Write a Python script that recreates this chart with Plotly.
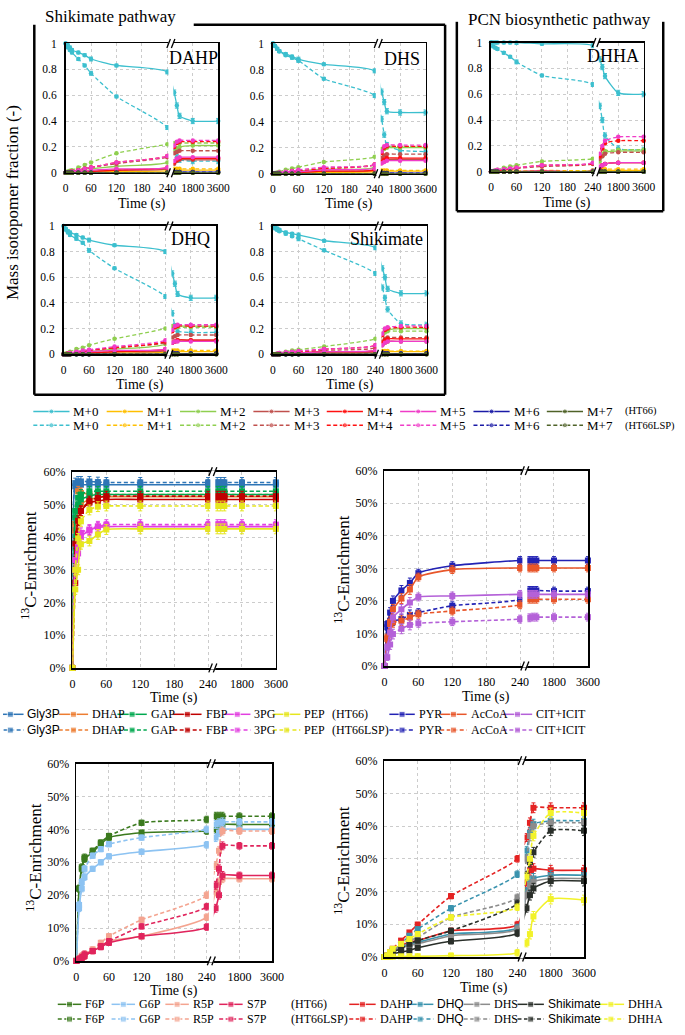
import numpy as np
import plotly.graph_objects as go

# ======================= DATA =======================
TIME_S = [0, 5, 10, 15, 30, 45, 60, 120, 240, 250, 260, 270, 1800, 3600]
TICK_TIMES = [0, 60, 120, 180, 240, 1800, 3600]
TICK_TEXT = ["0", "60", "120", "180", "240", "1800", "3600"]
ISOTOPOMERS = ["M+0", "M+1", "M+2", "M+3", "M+4", "M+5", "M+6", "M+7"]

# ---- DAHP mass isotopomer fractions ----
DAHP_M0_HT66 = [1.00, 0.99, 0.97, 0.95, 0.93, 0.91, 0.88, 0.83, 0.78, 0.62, 0.52, 0.44, 0.40, 0.40]
DAHP_M0_LSP = [1.00, 0.97, 0.95, 0.93, 0.88, 0.83, 0.77, 0.59, 0.35, 0.18, 0.12, 0.10, 0.09, 0.09]
DAHP_M1_HT66 = [0, 0, 0, 0, 0.005, 0.005, 0.01, 0.01, 0.015, 0.02, 0.02, 0.02, 0.02, 0.02]
DAHP_M1_LSP = [0, 0, 0, 0.005, 0.01, 0.01, 0.01, 0.02, 0.03, 0.03, 0.03, 0.03, 0.03, 0.03]
DAHP_M2_HT66 = [0, 0, 0.005, 0.01, 0.02, 0.03, 0.03, 0.05, 0.08, 0.16, 0.19, 0.20, 0.21, 0.21]
DAHP_M2_LSP = [0, 0.01, 0.015, 0.02, 0.04, 0.06, 0.08, 0.15, 0.22, 0.23, 0.23, 0.23, 0.23, 0.23]
DAHP_M3_HT66 = [0, 0, 0, 0, 0.005, 0.01, 0.01, 0.02, 0.03, 0.07, 0.09, 0.10, 0.10, 0.10]
DAHP_M3_LSP = [0, 0, 0.005, 0.01, 0.02, 0.03, 0.04, 0.07, 0.12, 0.15, 0.16, 0.17, 0.17, 0.17]
DAHP_M4_HT66 = [0, 0, 0, 0, 0.005, 0.01, 0.01, 0.02, 0.04, 0.08, 0.10, 0.11, 0.11, 0.11]
DAHP_M4_LSP = [0, 0, 0.005, 0.01, 0.02, 0.03, 0.04, 0.08, 0.13, 0.20, 0.23, 0.24, 0.24, 0.24]
DAHP_M5_HT66 = [0, 0, 0, 0.005, 0.01, 0.01, 0.02, 0.03, 0.04, 0.09, 0.11, 0.12, 0.12, 0.12]
DAHP_M5_LSP = [0, 0, 0.005, 0.01, 0.02, 0.03, 0.04, 0.08, 0.13, 0.21, 0.24, 0.25, 0.25, 0.25]
DAHP_M6_HT66 = [0, 0, 0, 0, 0, 0, 0, 0, 0, 0.005, 0.005, 0.005, 0.005, 0.005]
DAHP_M6_LSP = [0, 0, 0, 0, 0, 0, 0, 0, 0, 0.005, 0.005, 0.005, 0.005, 0.005]
DAHP_M7_HT66 = [0, 0, 0, 0, 0, 0, 0, 0, 0, 0, 0, 0, 0, 0]
DAHP_M7_LSP = [0, 0, 0, 0, 0, 0, 0, 0, 0, 0, 0, 0, 0, 0]

# ---- DHS ----
DHS_M0_HT66 = [1.00, 0.98, 0.96, 0.94, 0.92, 0.90, 0.88, 0.84, 0.79, 0.63, 0.55, 0.48, 0.47, 0.47]
DHS_M0_LSP = [1.00, 0.98, 0.96, 0.94, 0.91, 0.89, 0.87, 0.73, 0.60, 0.42, 0.30, 0.22, 0.18, 0.17]
DHS_M1_HT66 = [0, 0, 0, 0, 0.005, 0.005, 0.01, 0.01, 0.015, 0.02, 0.02, 0.02, 0.02, 0.02]
DHS_M1_LSP = [0, 0, 0, 0.005, 0.005, 0.01, 0.01, 0.015, 0.02, 0.025, 0.025, 0.025, 0.025, 0.025]
DHS_M2_HT66 = [0, 0, 0, 0.005, 0.01, 0.015, 0.02, 0.035, 0.05, 0.17, 0.19, 0.20, 0.20, 0.20]
DHS_M2_LSP = [0, 0.005, 0.01, 0.015, 0.03, 0.04, 0.05, 0.09, 0.13, 0.19, 0.20, 0.21, 0.21, 0.21]
DHS_M3_HT66 = [0, 0, 0, 0, 0.005, 0.01, 0.01, 0.02, 0.03, 0.08, 0.10, 0.11, 0.11, 0.11]
DHS_M3_LSP = [0, 0, 0, 0.005, 0.01, 0.02, 0.02, 0.04, 0.07, 0.12, 0.14, 0.15, 0.15, 0.15]
DHS_M4_HT66 = [0, 0, 0, 0, 0.005, 0.01, 0.01, 0.02, 0.03, 0.09, 0.11, 0.12, 0.12, 0.12]
DHS_M4_LSP = [0, 0, 0, 0.005, 0.01, 0.02, 0.02, 0.04, 0.07, 0.16, 0.20, 0.21, 0.21, 0.21]
DHS_M5_HT66 = [0, 0, 0, 0.005, 0.01, 0.01, 0.015, 0.03, 0.04, 0.08, 0.09, 0.10, 0.10, 0.10]
DHS_M5_LSP = [0, 0, 0.005, 0.01, 0.015, 0.02, 0.03, 0.05, 0.07, 0.17, 0.21, 0.22, 0.22, 0.22]
DHS_M6_HT66 = [0, 0, 0, 0, 0, 0, 0, 0, 0, 0.005, 0.005, 0.005, 0.005, 0.005]
DHS_M6_LSP = [0, 0, 0, 0, 0, 0, 0, 0, 0, 0.005, 0.005, 0.005, 0.005, 0.005]
DHS_M7_HT66 = [0, 0, 0, 0, 0, 0, 0, 0, 0, 0, 0, 0, 0, 0]
DHS_M7_LSP = [0, 0, 0, 0, 0, 0, 0, 0, 0, 0, 0, 0, 0, 0]

# ---- DHHA ----
DHHA_M0_HT66 = [1.00, 1.00, 1.00, 1.00, 1.00, 1.00, 1.00, 0.99, 0.975, 0.87, 0.81, 0.74, 0.61, 0.60]
DHHA_M0_LSP = [1.00, 0.97, 0.96, 0.95, 0.92, 0.89, 0.85, 0.745, 0.675, 0.51, 0.40, 0.28, 0.18, 0.17]
DHHA_M1_HT66 = [0, 0, 0, 0, 0, 0, 0, 0, 0.005, 0.01, 0.01, 0.01, 0.01, 0.01]
DHHA_M1_LSP = [0, 0, 0, 0, 0.005, 0.005, 0.005, 0.01, 0.01, 0.02, 0.02, 0.02, 0.02, 0.02]
DHHA_M2_HT66 = [0, 0, 0, 0, 0, 0, 0, 0.005, 0.01, 0.08, 0.12, 0.15, 0.16, 0.16]
DHHA_M2_LSP = [0, 0.005, 0.01, 0.015, 0.03, 0.04, 0.05, 0.08, 0.10, 0.12, 0.14, 0.16, 0.17, 0.17]
DHHA_M3_HT66 = [0, 0, 0, 0, 0, 0, 0, 0.005, 0.005, 0.03, 0.05, 0.06, 0.07, 0.07]
DHHA_M3_LSP = [0, 0, 0.005, 0.01, 0.015, 0.02, 0.025, 0.04, 0.06, 0.10, 0.12, 0.14, 0.15, 0.15]
DHHA_M4_HT66 = [0, 0, 0, 0, 0, 0, 0, 0.005, 0.005, 0.03, 0.05, 0.06, 0.07, 0.07]
DHHA_M4_LSP = [0, 0, 0.005, 0.01, 0.015, 0.02, 0.03, 0.05, 0.065, 0.12, 0.18, 0.22, 0.24, 0.24]
DHHA_M5_HT66 = [0, 0, 0, 0, 0, 0, 0, 0.005, 0.005, 0.04, 0.05, 0.06, 0.07, 0.07]
DHHA_M5_LSP = [0, 0.005, 0.01, 0.015, 0.02, 0.025, 0.03, 0.05, 0.07, 0.14, 0.20, 0.24, 0.27, 0.27]
DHHA_M6_HT66 = [0, 0, 0, 0, 0, 0, 0, 0, 0, 0, 0, 0, 0, 0]
DHHA_M6_LSP = [0, 0, 0, 0, 0, 0, 0, 0, 0, 0, 0, 0, 0, 0]
DHHA_M7_HT66 = [0, 0, 0, 0, 0, 0, 0, 0, 0, 0, 0, 0, 0, 0]
DHHA_M7_LSP = [0, 0, 0, 0, 0, 0, 0, 0, 0, 0, 0, 0, 0, 0]

# ---- DHQ ----
DHQ_M0_HT66 = [1.00, 0.98, 0.96, 0.95, 0.93, 0.91, 0.89, 0.85, 0.80, 0.63, 0.55, 0.47, 0.44, 0.44]
DHQ_M0_LSP = [1.00, 0.97, 0.95, 0.93, 0.90, 0.87, 0.81, 0.67, 0.45, 0.32, 0.22, 0.18, 0.17, 0.17]
DHQ_M1_HT66 = [0, 0, 0, 0, 0.005, 0.005, 0.01, 0.01, 0.015, 0.02, 0.02, 0.02, 0.02, 0.02]
DHQ_M1_LSP = [0, 0, 0, 0.005, 0.01, 0.01, 0.01, 0.02, 0.025, 0.03, 0.03, 0.03, 0.03, 0.03]
DHQ_M2_HT66 = [0, 0, 0, 0.005, 0.01, 0.02, 0.02, 0.04, 0.08, 0.20, 0.22, 0.22, 0.22, 0.22]
DHQ_M2_LSP = [0, 0.005, 0.01, 0.02, 0.04, 0.05, 0.07, 0.12, 0.20, 0.22, 0.21, 0.21, 0.21, 0.21]
DHQ_M3_HT66 = [0, 0, 0, 0, 0.005, 0.01, 0.01, 0.02, 0.03, 0.09, 0.10, 0.11, 0.11, 0.11]
DHQ_M3_LSP = [0, 0, 0.005, 0.01, 0.015, 0.02, 0.03, 0.05, 0.09, 0.13, 0.14, 0.15, 0.15, 0.15]
DHQ_M4_HT66 = [0, 0, 0, 0, 0.005, 0.01, 0.01, 0.02, 0.04, 0.09, 0.10, 0.11, 0.11, 0.11]
DHQ_M4_LSP = [0, 0, 0.005, 0.01, 0.015, 0.02, 0.03, 0.05, 0.10, 0.18, 0.21, 0.22, 0.22, 0.22]
DHQ_M5_HT66 = [0, 0, 0, 0.005, 0.01, 0.01, 0.02, 0.03, 0.04, 0.09, 0.10, 0.10, 0.10, 0.10]
DHQ_M5_LSP = [0, 0, 0.005, 0.01, 0.02, 0.03, 0.035, 0.06, 0.11, 0.19, 0.22, 0.23, 0.23, 0.23]
DHQ_M6_HT66 = [0, 0, 0, 0, 0, 0, 0, 0, 0, 0.005, 0.005, 0.005, 0.005, 0.005]
DHQ_M6_LSP = [0, 0, 0, 0, 0, 0, 0, 0, 0, 0.005, 0.005, 0.005, 0.005, 0.005]
DHQ_M7_HT66 = [0, 0, 0, 0, 0, 0, 0, 0, 0, 0, 0, 0, 0, 0]
DHQ_M7_LSP = [0, 0, 0, 0, 0, 0, 0, 0, 0, 0, 0, 0, 0, 0]

# ---- Shikimate ----
SHIK_M0_HT66 = [1.00, 0.99, 0.98, 0.97, 0.95, 0.94, 0.93, 0.885, 0.83, 0.67, 0.60, 0.51, 0.475, 0.475]
SHIK_M0_LSP = [1.00, 0.98, 0.97, 0.96, 0.94, 0.92, 0.90, 0.81, 0.63, 0.52, 0.44, 0.35, 0.24, 0.23]
SHIK_M1_HT66 = [0, 0, 0, 0, 0.005, 0.005, 0.01, 0.01, 0.015, 0.02, 0.02, 0.02, 0.02, 0.02]
SHIK_M1_LSP = [0, 0, 0, 0.005, 0.005, 0.01, 0.01, 0.015, 0.02, 0.025, 0.025, 0.025, 0.025, 0.025]
SHIK_M2_HT66 = [0, 0, 0, 0, 0.005, 0.01, 0.01, 0.02, 0.03, 0.15, 0.18, 0.19, 0.20, 0.20]
SHIK_M2_LSP = [0, 0, 0.005, 0.01, 0.02, 0.03, 0.035, 0.06, 0.12, 0.16, 0.17, 0.18, 0.18, 0.18]
SHIK_M3_HT66 = [0, 0, 0, 0, 0, 0.005, 0.005, 0.01, 0.02, 0.07, 0.09, 0.10, 0.10, 0.10]
SHIK_M3_LSP = [0, 0, 0, 0.005, 0.01, 0.01, 0.015, 0.03, 0.05, 0.10, 0.12, 0.13, 0.13, 0.13]
SHIK_M4_HT66 = [0, 0, 0, 0, 0.005, 0.005, 0.01, 0.02, 0.03, 0.09, 0.11, 0.12, 0.12, 0.12]
SHIK_M4_LSP = [0, 0, 0, 0.005, 0.01, 0.015, 0.02, 0.04, 0.07, 0.15, 0.19, 0.20, 0.21, 0.21]
SHIK_M5_HT66 = [0, 0, 0, 0.005, 0.005, 0.01, 0.01, 0.02, 0.03, 0.07, 0.09, 0.10, 0.10, 0.10]
SHIK_M5_LSP = [0, 0, 0.005, 0.01, 0.015, 0.02, 0.025, 0.04, 0.07, 0.16, 0.20, 0.21, 0.22, 0.22]
SHIK_M6_HT66 = [0, 0, 0, 0, 0, 0, 0, 0, 0, 0.005, 0.005, 0.005, 0.005, 0.005]
SHIK_M6_LSP = [0, 0, 0, 0, 0, 0, 0, 0, 0, 0.005, 0.005, 0.005, 0.005, 0.005]
SHIK_M7_HT66 = [0, 0, 0, 0, 0, 0, 0, 0, 0, 0, 0, 0, 0, 0]
SHIK_M7_LSP = [0, 0, 0, 0, 0, 0, 0, 0, 0, 0, 0, 0, 0, 0]

M0_ERR = [0, 0.005, 0.01, 0.01, 0.01, 0.01, 0.015, 0.01, 0.015, 0.02, 0.02, 0.02, 0.02, 0.02]

# ---- 13C enrichment (%) : glycolysis ----
GLY3P_HT66 = [0, 55.5, 56, 56, 56, 56, 56, 56, 56, 56, 56, 56, 56, 56]
GLY3P_LSP = [0, 56.5, 57, 57, 57, 56.8, 56.7, 56.7, 56.7, 56.7, 56.7, 56.7, 56.7, 56.7]
DHAP_HT66 = [0, 42, 48, 50, 51.5, 52, 52.3, 52.3, 52.3, 52.3, 52.3, 52.3, 52.3, 52.3]
DHAP_LSP = [0, 44, 54, 53.5, 53.2, 53, 53, 53, 53, 53, 53, 53, 53, 53]
GAP_HT66 = [0, 46, 50, 51.5, 52.5, 53, 53, 53, 53, 53, 53, 53, 53, 53]
GAP_LSP = [0, 48, 52, 53, 54, 54, 54, 54, 54, 54, 54, 54, 54, 54]
FBP_HT66 = [0, 38, 45, 48, 50.5, 51, 51.5, 51.5, 51.5, 51.5, 51.5, 51.5, 51.5, 51.5]
FBP_LSP = [0, 26, 41, 48, 51, 52, 52.5, 52.5, 52.5, 52.5, 52.5, 52.5, 52.5, 52.5]
PG3_HT66 = [0, 33, 37, 40, 42, 43, 43.2, 43.2, 43.2, 43.2, 43.2, 43.2, 43.2, 43.2]
PG3_LSP = [0, 30, 35, 41.3, 42.3, 43.3, 43.8, 43.8, 43.8, 43.8, 43.8, 43.8, 43.8, 43.8]
PEP_HT66 = [0, 24, 30, 37.8, 38.8, 40.8, 42.3, 42.5, 42.5, 42.5, 42.5, 42.5, 42.5, 42.5]
PEP_LSP = [0, 30, 39.6, 44.8, 48.3, 49.3, 49.5, 49.5, 49.5, 49.5, 49.5, 49.5, 49.5, 49.5]
GLY_ERR = [0, 1.5, 1.5, 1.5, 1.5, 1.5, 1.5, 1.5, 1.5, 1.5, 1.5, 1.5, 1.5, 1.5]

# ---- PYR / AcCoA / CIT+ICIT ----
PYR_HT66 = [0, 12.9, 16.4, 20, 23.2, 25.5, 28.5, 30.8, 32.4, 32.4, 32.4, 32.4, 32.4, 32.4]
PYR_LSP = [0, 11.9, 13.9, 13.9, 14.4, 15.7, 16.4, 18.5, 20.5, 23.2, 23.2, 23.2, 23, 23]
ACCOA_HT66 = [0, 8.3, 13.6, 17.4, 20.7, 23.5, 27.3, 29.6, 30.1, 30.1, 30.1, 30.1, 30.1, 30.1]
ACCOA_LSP = [0, 8.8, 12.9, 13.4, 13.9, 14.9, 15.9, 16.9, 18.8, 20.5, 20.5, 20.5, 20.5, 20.5]
CIT_HT66 = [0, 5.8, 10.3, 14.9, 17.4, 19.5, 21.2, 21.5, 22, 22, 22, 22, 22, 22]
CIT_LSP = [0, 2.7, 6.6, 9.8, 11.4, 12.6, 13.1, 13.6, 14.4, 14.8, 15, 15, 15, 15]
TCA_ERR = [0, 1, 1.5, 1.5, 1.5, 1.5, 1.2, 1.2, 1.2, 1.2, 1.2, 1.2, 1.2, 1.2]

# ---- PPP ----
F6P_HT66 = [0, 22, 28, 31, 33, 35.5, 37.5, 39, 39.5, 40, 41, 41.5, 41.5, 41.5]
F6P_LSP = [0, 22, 28.5, 31.5, 33.5, 36, 38, 42, 43, 44, 44, 44, 44, 44]
G6P_HT66 = [0, 16, 22, 25.5, 28, 30, 31.8, 33.2, 35.3, 37.5, 39, 40, 40, 40]
G6P_LSP = [0, 17, 24, 28, 32, 34, 35.5, 37.5, 40, 41.5, 42, 42.3, 42.3, 42.3]
R5P_HT66 = [0, 0.5, 1, 1.5, 3, 4.5, 6, 7.5, 13.3, 21, 24, 25, 25, 25]
R5P_LSP = [0, 0.5, 1.5, 2, 3.5, 5.5, 7.5, 12.5, 20, 29, 33.5, 39.5, 39.5, 39.5]
S7P_HT66 = [0, 0.3, 1, 1.5, 3, 4.2, 5.5, 7.5, 10.3, 16, 20, 26, 26, 26]
S7P_LSP = [0, 0.5, 1, 2, 3, 4.5, 6, 10.5, 16.5, 23, 28, 35, 35, 35]
PPP_ERR = [0, 1, 1, 1, 0.8, 0.8, 0.8, 0.8, 1, 1.2, 1.2, 1.2, 1, 1]

# ---- shikimate pathway enrichment ----
DAHP_E_HT66 = [0, 0.3, 1, 2, 3.5, 4.5, 5, 8, 9.9, 23, 26.5, 27, 26.5, 26.5]
DAHP_E_LSP = [0, 0.5, 1.5, 2.5, 5, 7.5, 9.9, 18.6, 30, 36.5, 41, 45.6, 45.6, 45.6]
DHQ_E_HT66 = [0, 0.3, 1, 1.8, 3, 4, 4.5, 7, 9, 20, 23, 24, 25, 25]
DHQ_E_LSP = [0, 0.4, 1.2, 2, 4, 6.5, 8.5, 14.9, 25.3, 32.5, 38, 40.6, 41.6, 41.6]
DHS_E_HT66 = [0, 0.2, 0.8, 1.5, 2.8, 3.5, 4, 6.5, 8.5, 19, 22, 23, 24, 24]
DHS_E_LSP = [0, 0.3, 1, 1.8, 3.5, 5, 6, 12.1, 18.2, 30, 37, 40, 41, 41]
SHIK_E_HT66 = [0, 0.1, 0.5, 1, 1.5, 2, 2.8, 4.8, 7.3, 14.9, 18.9, 21, 23.2, 23.2]
SHIK_E_LSP = [0, 0.2, 0.8, 1.5, 2.5, 4, 5, 8, 16.4, 25, 29, 32, 38.6, 38.6]
DHHA_E_HT66 = [0, 0, 0.1, 0.1, 0.2, 0.2, 0.2, 0.4, 1.3, 4.3, 7, 12.4, 17.7, 17.4]
DHHA_E_LSP = [0, 0.5, 1.5, 2.5, 4, 5.5, 7, 12.1, 15.2, 24.5, 30, 37, 44, 44]
SHK_ERR = [0, 0.3, 0.4, 0.5, 0.6, 0.6, 0.7, 0.8, 1, 1.2, 1.5, 1.5, 1.5, 1.5]

# ======================= STYLE / SCALES =======================
W, H = 685, 1035
SERIF = "Liberation Serif, Times New Roman, serif"
SANS = "Liberation Sans, Arial, sans-serif"
M_COLORS = ["#3CBFCE", "#FFBF00", "#8FCF4F", "#C0504D", "#FF1010", "#F03CC8", "#1A1AA6", "#4F6228"]
DASH = "4px,2.5px"

# broken time axis: seconds -> axis position
BRK_T = [0, 240, 250, 270, 1800, 3600]
BRK_P = [0, 4, 4.27, 4.48, 5, 6]


def tpos(t):
    return list(np.interp(t, BRK_T, BRK_P))


fig = go.Figure()
layout = {}
shapes = []
annotations = []


def px(x, y):
    return x / W, 1 - y / H


def ann(x, y, text, size, family=SERIF, xanchor="center", angle=0, color="black"):
    ax, ay = px(x, y)
    annotations.append(dict(x=ax, y=ay, xref="paper", yref="paper", text=text, showarrow=False,
                            xanchor=xanchor, yanchor="middle", textangle=angle,
                            font=dict(family=family, size=size, color=color)))


def line_px(x0, y0, x1, y1, width=2.5, color="black"):
    a0, b0 = px(x0, y0)
    a1, b1 = px(x1, y1)
    shapes.append(dict(type="line", xref="paper", yref="paper", x0=a0, y0=b0, x1=a1, y1=b1,
                       line=dict(color=color, width=width), layer="above"))


def make_axes(idx, box, yrange, dtick, suffix, ticklen, fsize):
    x0, x1, yt, yb = box
    k = "" if idx == 1 else str(idx)
    layout["xaxis" + k] = dict(domain=[x0 / W, x1 / W], anchor="y" + k, range=[0, 6],
                               tickmode="array", tickvals=tpos(TICK_TIMES), ticktext=TICK_TEXT,
                               tickangle=0,
                               showgrid=True, gridcolor="#cccccc", griddash="dot", gridwidth=1,
                               showline=True, mirror=True, linecolor="black", linewidth=1.6,
                               zeroline=False, ticks="outside", ticklen=4, tickcolor="rgba(0,0,0,0)",
                               tickfont=dict(family=SERIF, size=fsize, color="black"), fixedrange=True)
    layout["yaxis" + k] = dict(domain=[1 - yb / H, 1 - yt / H], anchor="x" + k, range=yrange,
                               dtick=dtick, ticksuffix=suffix, showgrid=True, gridcolor="#cccccc",
                               griddash="dot", gridwidth=1, showline=True, mirror=True,
                               linecolor="black", linewidth=1.6, zeroline=False, ticks="outside",
                               ticklen=ticklen, tickcolor="rgba(0,0,0,0)",
                               tickfont=dict(family=SERIF, size=fsize, color="black"), fixedrange=True)
    # axis break: white gap and // marks
    gx = x0 + 4.14 / 6 * (x1 - x0)
    a0, b0 = px(gx - 2.5, yb + 1.5)
    a1, b1 = px(gx + 2.5, yt - 1.5)
    shapes.append(dict(type="rect", xref="paper", yref="paper", x0=a0, y0=b0, x1=a1, y1=b1,
                       fillcolor="white", line=dict(width=0), layer="above"))
    for yy in (yt, yb):
        for dx in (-2.3, 2.3):
            line_px(gx + dx - 1.8, yy + 4.5, gx + dx + 1.8, yy - 4.5, width=1.3)


def add_series(idx, vals, color, dashed, symbol, msize, lw, err=None):
    k = "" if idx == 1 else str(idx)
    tr = go.Scatter(x=tpos(TIME_S), y=vals, mode="lines+markers", xaxis="x" + k, yaxis="y" + k,
                    line=dict(color=color, width=lw, dash=DASH if dashed else "solid",
                              shape="spline", smoothing=0.6),
                    marker=dict(symbol=symbol, size=msize, color=color, line=dict(width=0)),
                    cliponaxis=False, showlegend=False, hoverinfo="skip")
    if err is not None:
        tr.error_y = dict(type="data", array=err, color=color, thickness=1, width=2)
    fig.add_trace(tr)


# ======================= TOP: mass isotopomer panels =======================
TOP_PANELS = [
    (1, (64, 220, 37, 168), "DAHP", 222, 52, 200,
     [(DAHP_M0_HT66, DAHP_M0_LSP), (DAHP_M1_HT66, DAHP_M1_LSP), (DAHP_M2_HT66, DAHP_M2_LSP),
      (DAHP_M3_HT66, DAHP_M3_LSP), (DAHP_M4_HT66, DAHP_M4_LSP), (DAHP_M5_HT66, DAHP_M5_LSP),
      (DAHP_M6_HT66, DAHP_M6_LSP), (DAHP_M7_HT66, DAHP_M7_LSP)]),
    (2, (276, 432, 37, 169), "DHS", 428, 53, 200,
     [(DHS_M0_HT66, DHS_M0_LSP), (DHS_M1_HT66, DHS_M1_LSP), (DHS_M2_HT66, DHS_M2_LSP),
      (DHS_M3_HT66, DHS_M3_LSP), (DHS_M4_HT66, DHS_M4_LSP), (DHS_M5_HT66, DHS_M5_LSP),
      (DHS_M6_HT66, DHS_M6_LSP), (DHS_M7_HT66, DHS_M7_LSP)]),
    (3, (499, 655, 36, 167), "DHHA", 652, 50, 199,
     [(DHHA_M0_HT66, DHHA_M0_LSP), (DHHA_M1_HT66, DHHA_M1_LSP), (DHHA_M2_HT66, DHHA_M2_LSP),
      (DHHA_M3_HT66, DHHA_M3_LSP), (DHHA_M4_HT66, DHHA_M4_LSP), (DHHA_M5_HT66, DHHA_M5_LSP),
      (DHHA_M6_HT66, DHHA_M6_LSP), (DHHA_M7_HT66, DHHA_M7_LSP)]),
    (4, (62, 218, 222, 352), "DHQ", 214, 235, 383,
     [(DHQ_M0_HT66, DHQ_M0_LSP), (DHQ_M1_HT66, DHQ_M1_LSP), (DHQ_M2_HT66, DHQ_M2_LSP),
      (DHQ_M3_HT66, DHQ_M3_LSP), (DHQ_M4_HT66, DHQ_M4_LSP), (DHQ_M5_HT66, DHQ_M5_LSP),
      (DHQ_M6_HT66, DHQ_M6_LSP), (DHQ_M7_HT66, DHQ_M7_LSP)]),
    (5, (276, 433, 222, 352), "Shikimate", 431, 235, 383,
     [(SHIK_M0_HT66, SHIK_M0_LSP), (SHIK_M1_HT66, SHIK_M1_LSP), (SHIK_M2_HT66, SHIK_M2_LSP),
      (SHIK_M3_HT66, SHIK_M3_LSP), (SHIK_M4_HT66, SHIK_M4_LSP), (SHIK_M5_HT66, SHIK_M5_LSP),
      (SHIK_M6_HT66, SHIK_M6_LSP), (SHIK_M7_HT66, SHIK_M7_LSP)]),
]

for idx, box, name, nx, ny, ty, series in TOP_PANELS:
    make_axes(idx, box, [0, 1], 0.2, "", 5, 11.5)
    for m, (ht, lsp) in enumerate(series):
        err = M0_ERR if m == 0 else None
        add_series(idx, ht, M_COLORS[m], False, "circle", 4.5, 1.3, err)
        add_series(idx, lsp, M_COLORS[m], True, "circle", 4.5, 1.3, err)
    ann(nx, ny, name, 18, xanchor="right")
    ann((box[0] + box[1]) / 2, ty, "Time (s)", 14)

# frames around the two groups
line_px(32, 18, 32, 393)
line_px(32, 393, 452, 393)
line_px(452, 18, 452, 393)
line_px(195, 18, 452, 18)
line_px(464, 15, 464, 207)
line_px(464, 207, 675, 207)
line_px(675, 15, 675, 207)
ann(110, 10, "Shikimate pathway", 17)
ann(569, 13, "PCN biosynthetic pathway", 17)
ann(10, 198, "Mass isotopomer fraction (-)", 17, angle=-90)

# ======================= enrichment panels =======================
ENR_PANELS = [
    (6, (71, 279, 471, 670), 27, 566, 700, GLY_ERR,
     [(GLY3P_HT66, GLY3P_LSP, "#2E75B6"), (DHAP_HT66, DHAP_LSP, "#ED7D31"),
      (GAP_HT66, GAP_LSP, "#00A84F"), (FBP_HT66, FBP_LSP, "#C00000"),
      (PG3_HT66, PG3_LSP, "#E23FE0"), (PEP_HT66, PEP_LSP, "#E6E61E")]),
    (7, (390, 598, 470, 668), 347, 570, 699, TCA_ERR,
     [(PYR_HT66, PYR_LSP, "#2222B4"), (ACCOA_HT66, ACCOA_LSP, "#E8562A"),
      (CIT_HT66, CIT_LSP, "#B461D8")]),
    (8, (75, 275, 767, 967), 32, 862, 997, PPP_ERR,
     [(F6P_HT66, F6P_LSP, "#3B7A1E"), (G6P_HT66, G6P_LSP, "#8DC3F2"),
      (R5P_HT66, R5P_LSP, "#F4A490"), (S7P_HT66, S7P_LSP, "#E0245C")]),
    (9, (390, 594, 764, 963), 347, 865, 994, SHK_ERR,
     [(DAHP_E_HT66, DAHP_E_LSP, "#E42222"), (DHQ_E_HT66, DHQ_E_LSP, "#3A93AE"),
      (DHS_E_HT66, DHS_E_LSP, "#8C8C8C"), (SHIK_E_HT66, SHIK_E_LSP, "#2A2F2A"),
      (DHHA_E_HT66, DHHA_E_LSP, "#F2F22A")]),
]

for idx, box, tx, tyy, ty, err, series in ENR_PANELS:
    make_axes(idx, box, [0, 60], 10, "%", 3, 12)
    for ht, lsp, col in series:
        add_series(idx, ht, col, False, "square", 6, 1.6, err)
        add_series(idx, lsp, col, True, "square", 6, 1.6, err)
    ann(tx, tyy, "<sup>13</sup>C-Enrichment", 17, angle=-90)
    ann((box[0] + box[1]) / 2, ty, "Time (s)", 14)

# ======================= custom legends (overlay pixel axis) =======================
layout["xaxis10"] = dict(domain=[0, 1], range=[0, W], visible=False, anchor="y10", fixedrange=True)
layout["yaxis10"] = dict(domain=[0, 1], range=[H, 0], visible=False, anchor="x10", fixedrange=True)


def legend_entry(xa, xb, y, color, dashed, symbol, msize, label, family=SERIF, size=13, lw=1.5):
    fig.add_trace(go.Scatter(x=[xa, (xa + xb) / 2, xb], y=[y, y, y], xaxis="x10", yaxis="y10",
                             mode="lines+markers",
                             line=dict(color=color, width=lw, dash=DASH if dashed else "solid"),
                             marker=dict(symbol=symbol, size=[0, msize, 0], color=color),
                             cliponaxis=False, showlegend=False, hoverinfo="skip"))
    ann(xb + 2, y, label, size, family=family, xanchor="left")


# legend 1 : isotopomers
for m, name in enumerate(ISOTOPOMERS):
    xa = 31 + 75 * m
    legend_entry(xa, xa + 37, 410, M_COLORS[m], False, "circle", 5, name)
    legend_entry(xa, xa + 37, 424, M_COLORS[m], True, "circle", 5, name)
ann(634, 410, "(HT66)", 10.5, xanchor="left")
ann(634, 425, "(HT66LSP)", 10.5, xanchor="left")

# legend 2 : glycolysis / TCA
MID_LEG = [(-6, 21, "Gly3P", "#2E75B6", SANS), (57, 87, "DHAP", "#ED7D31", SERIF),
           (117, 147, "GAP", "#00A84F", SERIF), (174, 203, "FBP", "#C00000", SERIF),
           (226, 253, "3PG", "#E23FE0", SERIF), (276, 304, "PEP", "#E6E61E", SERIF),
           (395, 421, "PYR", "#2222B4", SERIF), (447, 474, "AcCoA", "#E8562A", SERIF),
           (511, 541, "CIT+ICIT", "#B461D8", SERIF)]
for xa, xb, lab, col, fam in MID_LEG:
    legend_entry(xa, xb, 717, col, False, "square", 6, lab, family=fam, size=12)
    legend_entry(xa, xb, 733, col, True, "square", 6, lab, family=fam, size=12)
ann(334, 717, "(HT66)", 12, xanchor="left")
ann(334, 733, "(HT66LSP)", 12, xanchor="left")

# legend 3 : PPP / shikimate
BOT_LEG = [(56, 80, "F6P", "#3B7A1E", SERIF), (111, 135, "G6P", "#8DC3F2", SERIF),
           (166, 190, "R5P", "#F4A490", SERIF), (221, 245, "S7P", "#E0245C", SERIF),
           (354, 381, "DAHP", "#E42222", SERIF), (413, 440, "DHQ", "#3A93AE", SANS),
           (471, 498, "DHS", "#8C8C8C", SERIF), (526, 553, "Shikimate", "#2A2F2A", SANS),
           (608, 635, "DHHA", "#F2F22A", SERIF)]
for xa, xb, lab, col, fam in BOT_LEG:
    legend_entry(xa, xb, 1011, col, False, "square", 6, lab, family=fam, size=12)
    legend_entry(xa, xb, 1026, col, True, "square", 6, lab, family=fam, size=12)
ann(292, 1011, "(HT66)", 12, xanchor="left")
ann(292, 1026, "(HT66LSP)", 12, xanchor="left")

fig.update_layout(width=W, height=H, margin=dict(l=0, r=0, t=0, b=0),
                  paper_bgcolor="white", plot_bgcolor="rgba(0,0,0,0)",
                  showlegend=False, shapes=shapes, annotations=annotations, **layout)

# remove the browser's default page margin so the figure sits at the window origin
fig.write_html("out.html", config={"displayModeBar": False, "staticPlot": True},
               post_script="document.body.style.margin='0px';document.body.style.overflow='hidden';")
